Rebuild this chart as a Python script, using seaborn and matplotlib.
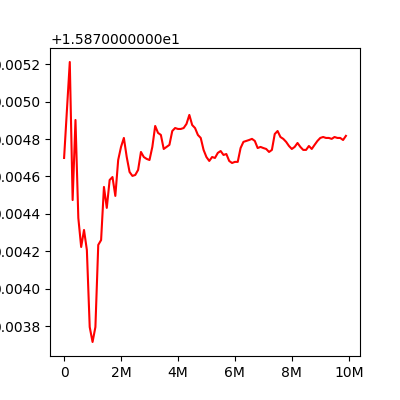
import numpy as np
import pandas as pd
import matplotlib
matplotlib.use("Agg")
import matplotlib.pyplot as plt
from matplotlib.ticker import FuncFormatter, ScalarFormatter
import seaborn as sns

steps = np.arange(100) * 100_000
offset_vals = [
    0.004699, 0.004956, 0.005212, 0.004474, 0.004902, 0.004378, 0.004223, 0.004314, 0.004207, 0.003795,
    0.003715, 0.003795, 0.004234, 0.004260, 0.004544, 0.004432, 0.004581, 0.004597, 0.004496, 0.004688,
    0.004758, 0.004806, 0.004704, 0.004624, 0.004603, 0.004608, 0.004635, 0.004731, 0.004704, 0.004694,
    0.004688, 0.004758, 0.004870, 0.004833, 0.004822, 0.004747, 0.004758, 0.004769, 0.004843, 0.004859,
    0.004854, 0.004854, 0.004859, 0.004881, 0.004929, 0.004875, 0.004859, 0.004822, 0.004806, 0.004742,
    0.004704, 0.004683, 0.004704, 0.004699, 0.004726, 0.004736, 0.004715, 0.004720, 0.004683, 0.004672,
    0.004678, 0.004678, 0.004752, 0.004785, 0.004790, 0.004795, 0.004801, 0.004790, 0.004752, 0.004758,
    0.004752, 0.004747, 0.004731, 0.004742, 0.004827, 0.004843, 0.004811, 0.004801, 0.004785, 0.004763,
    0.004747, 0.004758, 0.004779, 0.004758, 0.004742, 0.004742, 0.004763, 0.004747, 0.004769, 0.004790,
    0.004806, 0.004811, 0.004806, 0.004806, 0.004801, 0.004811, 0.004806, 0.004806, 0.004795, 0.004817,
]
values = [15.87 + v for v in offset_vals]

df = pd.DataFrame({"step": steps, "value": values})


class LongOffsetFormatter(ScalarFormatter):
    def get_offset(self):
        s = super().get_offset()
        if self.offset:
            m, e = ("%1.10e" % abs(self.offset)).split("e")
            sign = "+" if self.offset > 0 else "\u2212"
            s = f"{sign}{m}e{int(e)}"
        return s


fig, ax = plt.subplots(figsize=(4, 4), dpi=100)
sns.lineplot(data=df, x="step", y="value", color="red", linewidth=1.5, ax=ax)
ax.set_xlabel("")
ax.set_ylabel("")
ax.xaxis.set_major_formatter(FuncFormatter(lambda v, p: "0" if v == 0 else f"{v/1e6:.0f}M"))
ax.yaxis.set_major_formatter(LongOffsetFormatter())
fig.savefig("out.png", dpi=100)
